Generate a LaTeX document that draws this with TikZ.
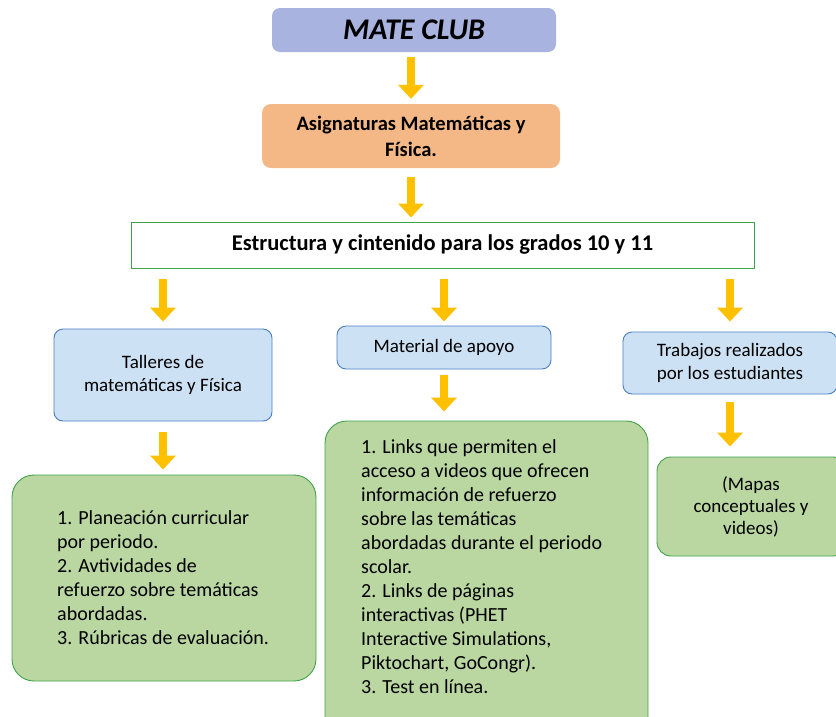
\documentclass[tikz,border=0pt]{standalone}
\usepackage{fontspec}
\setmainfont{Carlito}
\usetikzlibrary{arrows.meta}
\definecolor{cTop}{HTML}{A8B3DF}
\definecolor{cOrange}{HTML}{F4B786}
\definecolor{cBlueF}{HTML}{CDE1F4}
\definecolor{cBlueD}{HTML}{4A7EC4}
\definecolor{cGreenF}{HTML}{BAD6A1}
\definecolor{cGreenD}{HTML}{3FA34A}
\definecolor{cArrow}{HTML}{FFC000}
\tikzset{
  boxbase/.style={rounded corners=9pt, inner sep=0pt, align=center},
  bluebox/.style={boxbase, fill=cBlueF, draw=cBlueD, line width=0.9pt, font=\fontsize{19}{23}\selectfont},
  greenbox/.style={boxbase, rounded corners=22pt, fill=cGreenF, draw=cGreenD, line width=0.9pt},
  bodytext/.style={align=left, font=\fontsize{20}{24}\selectfont, inner sep=0pt},
  yarrow/.style={draw=cArrow, line width=8pt, -{Triangle[width=25pt,length=14pt]}},
}
\begin{document}
\begin{tikzpicture}[x=1pt,y=-1pt]
\useasboundingbox (0,0) rectangle (836,716);
\clip (0,0) rectangle (836,716);
% top boxes
\node[boxbase, rounded corners=8pt, fill=cTop, minimum width=284pt, minimum height=44pt, font=\fontsize{30}{30}\selectfont\bfseries\itshape] (mate) at (414,30) {MATE CLUB};
\node[boxbase, fill=cOrange, minimum width=298pt, minimum height=64pt, font=\fontsize{20.5}{26}\selectfont\bfseries] (asig) at (411,136) {Asignaturas Matemáticas y\\Física.};
\node[draw=cGreenD, line width=1pt, fill=white, minimum width=623pt, minimum height=46pt, inner sep=0pt, font=\fontsize{22.5}{24}\selectfont\bfseries] (estr) at (442.5,245) {Estructura y cintenido para los grados 10 y 11};
% second level
\node[bluebox, minimum width=218pt, minimum height=92pt] (tall) at (163,375) {Talleres de\\matemáticas y Física};
\node[bluebox, minimum width=214pt, minimum height=43pt] (mat) at (444,347.5) {Material de apoyo};
\node[bluebox, minimum width=214pt, minimum height=62pt] (trab) at (730,363) {Trabajos realizados\\por los estudiantes};
% third level
\node[greenbox, minimum width=304pt, minimum height=206pt] (g1) at (164,578) {};
\node[bodytext, anchor=west] (t1) at (57,578) {1. Planeación curricular\\por periodo.\\2. Avtividades de\\refuerzo sobre temáticas\\abordadas.\\3. Rúbricas de evaluación.};
\node[greenbox, minimum width=323pt, minimum height=320pt] (g2) at (486.5,581) {};
\node[bodytext, anchor=north west] (t2) at (361,439) {1. Links que permiten el\\acceso a videos que ofrecen\\información de refuerzo\\sobre las temáticas\\abordadas durante el periodo\\scolar.\\2. Links de páginas\\interactivas (PHET\\Interactive Simulations,\\Piktochart, GoCongr).\\3. Test en línea.};
\node[greenbox, rounded corners=14pt, minimum width=190pt, minimum height=99pt] (g3) at (752,506.5) {};
\node[bodytext, align=center, font=\fontsize{19}{22}\selectfont] (t3) at (751,507) {(Mapas\\conceptuales y\\videos)};
% arrows
\draw[yarrow, shorten <=5pt, shorten >=5pt] (mate.south -| asig.north) -- (asig.north);
\draw[yarrow, shorten <=9pt, shorten >=4pt] (asig.south) -- (asig.south |- estr.north);
\draw[yarrow, shorten <=10pt, shorten >=7pt] (tall.north |- estr.south) -- (tall.north);
\draw[yarrow, shorten <=10pt, shorten >=4pt] (mat.north |- estr.south) -- (mat.north);
\draw[yarrow, shorten <=10pt, shorten >=10pt] (trab.north |- estr.south) -- (trab.north);
\draw[yarrow, shorten <=11pt, shorten >=5pt] (tall.south) -- (tall.south |- g1.north);
\draw[yarrow, shorten <=6pt, shorten >=9pt] (mat.south) -- (mat.south |- g2.north);
\draw[yarrow, shorten <=8pt, shorten >=10pt] (trab.south) -- (trab.south |- g3.north);
\end{tikzpicture}
\end{document}
